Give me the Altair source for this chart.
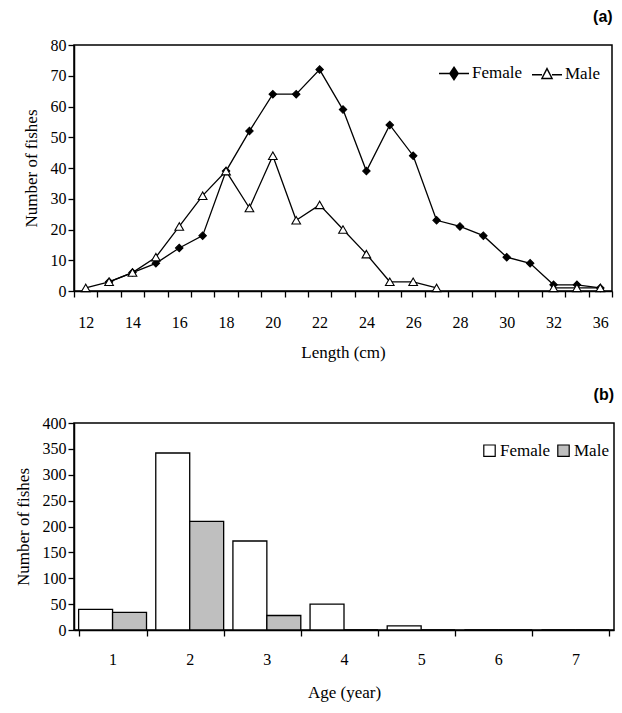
import altair as alt
import pandas as pd

# ---- data ----
lengths = [12, 13, 14, 15, 16, 17, 18, 19, 20, 21, 22, 23, 24, 25, 26, 27,
           28, 29, 30, 31, 32, 34, 36]
female_len = [None, 3, 6, 9, 14, 18, 39, 52, 64, 64, 72, 59, 39, 54, 44, 23,
              21, 18, 11, 9, 2, 2, 1]
male_len = [1, 3, 6, 11, 21, 31, 39, 27, 44, 23, 28, 20, 12, 3, 3, 1,
            None, None, None, None, 1, 1, 1]
len_labels = ["12", "14", "16", "18", "20", "22", "24", "26", "28", "30", "32", "36"]

ages = [1, 2, 3, 4, 5, 6, 7]
female_age = [40, 342, 172, 50, 8, 0, 0]
male_age = [34, 210, 28, 0, 0, 0, 0]

sexes = ["Female", "Male"]

# ---- build tables ----
rows = []
for sex, vals in (("Female", female_len), ("Male", male_len)):
    seg = 0
    prev_none = False
    for L, v in zip(lengths, vals):
        if v is None:
            prev_none = True
            continue
        if prev_none:
            seg += 1
            prev_none = False
        rows.append({"Length": L, "Count": v, "Sex": sex, "Series": sex, "Seg": f"{sex}{seg}"})
df_len = pd.DataFrame(rows)

rows = []
for sex, vals in (("Female", female_age), ("Male", male_age)):
    for a, v in zip(ages, vals):
        rows.append({"Age": a, "Count": v, "Group": sex})
df_age = pd.DataFrame(rows)

SERIF = "Liberation Serif"

x_len = alt.X(
    "Length:O",
    scale=alt.Scale(type="band", domain=lengths, paddingInner=0, paddingOuter=0),
    axis=alt.Axis(
        title="Length (cm)",
        labelAngle=0,
        tickBand="extent",
        labelExpr="indexof(" + str(len_labels) + ", datum.label) >= 0 ? datum.label : ''",
        labelPadding=17,
        titlePadding=14,
    ),
)
y_len = alt.Y(
    "Count:Q",
    scale=alt.Scale(domain=[0, 80], nice=False),
    axis=alt.Axis(title="Number of fishes", values=list(range(0, 81, 10)), titlePadding=10),
)


# legend symbols: a short line with the marker on it (stroke-only paths)
def _diamond(k):
    return f"M0,{-0.42*k:.3f}L{0.28*k:.3f},0L0,{0.42*k:.3f}L{-0.28*k:.3f},0Z"


female_path = "M-1,0L1,0" + "".join(_diamond(k) for k in (1, 0.8, 0.6, 0.4, 0.2, 0.05))
male_path = "M-1,0.05L-0.33,0.05M0.33,0.05L1,0.05M0,-0.36L0.34,0.3L-0.34,0.3Z"
legend_paths = [female_path, male_path]

lines = alt.Chart(df_len).mark_line(color="black", strokeWidth=1.3).encode(
    x=x_len, y=y_len, detail="Seg:N"
)
points = alt.Chart(df_len).mark_point(stroke="black", strokeWidth=1.1, opacity=1, filled=False).encode(
    x=x_len,
    y=y_len,
    shape=alt.Shape("Sex:N", scale=alt.Scale(domain=sexes, range=["diamond", "triangle-up"]), legend=None),
    fill=alt.Fill("Sex:N", scale=alt.Scale(domain=sexes, range=["black", "white"]), legend=None),
    size=alt.Size("Sex:N", scale=alt.Scale(domain=sexes, range=[55, 75]), legend=None),
)

leg = alt.Legend(
    title=None,
    orient="none",
    legendX=364,
    legendY=12,
    direction="horizontal",
    symbolSize=900,
    symbolStrokeColor="black",
    symbolStrokeWidth=1.4,
    symbolOpacity=1,
    labelFont=SERIF,
    labelFontSize=17,
    labelColor="black",
    columnPadding=6,
    labelOffset=2,
)
# legend-only layer: no rows survive the filter, the legend comes from the scale domain
legend_layer = alt.Chart(df_len).transform_filter("false").mark_point(
    filled=False, color="black", opacity=1, strokeWidth=1.4
).encode(
    x=x_len,
    y=y_len,
    shape=alt.Shape("Series:N", scale=alt.Scale(domain=sexes, range=legend_paths), legend=leg),
)

top = alt.layer(lines, points, legend_layer).resolve_scale(
    shape="independent", fill="independent", size="independent"
).properties(
    width=538,
    height=246,
    title=alt.Title("(a)", anchor="end", font="Liberation Sans", fontWeight="bold",
                    fontSize=16, offset=12, color="black"),
)

bars = alt.Chart(df_age).mark_bar(stroke="black", strokeWidth=1.3).encode(
    x=alt.X(
        "Age:O",
        scale=alt.Scale(paddingInner=0.12, paddingOuter=0.06),
        axis=alt.Axis(title="Age (year)", labelAngle=0, tickBand="extent",
                      labelPadding=15, titlePadding=17),
    ),
    xOffset=alt.XOffset("Group:N", sort=sexes, scale=alt.Scale(paddingInner=0, paddingOuter=0)),
    y=alt.Y(
        "Count:Q",
        scale=alt.Scale(domain=[0, 400], nice=False),
        axis=alt.Axis(title="Number of fishes", values=list(range(0, 401, 50)), titlePadding=10),
    ),
    fill=alt.Fill(
        "Group:N",
        scale=alt.Scale(domain=sexes, range=["white", "#bfbfbf"]),
        legend=alt.Legend(
            title=None,
            orient="none",
            legendX=407,
            legendY=19,
            direction="horizontal",
            symbolType="square",
            symbolSize=130,
            symbolStrokeColor="black",
            symbolStrokeWidth=1.2,
            labelFont=SERIF,
            labelFontSize=17,
            labelColor="black",
            columnPadding=4,
            labelOffset=2,
        ),
    ),
).properties(
    width=540,
    height=207,
    title=alt.Title("(b)", anchor="end", font="Liberation Sans", fontWeight="bold",
                    fontSize=16, offset=12, color="black"),
)

chart = alt.vconcat(top, bars, spacing=25).resolve_scale(
    fill="independent", shape="independent", size="independent"
).resolve_legend(
    fill="independent", shape="independent"
).configure(
    padding={"left": 13, "top": 8, "right": 4, "bottom": 4},
    background="white",
).configure_view(
    stroke="black", strokeWidth=1.5
).configure_legend(
    labelFont=SERIF, labelFontSize=17, labelColor="black"
).configure_axis(
    grid=False,
    domainColor="black",
    domainWidth=1.5,
    tickColor="black",
    tickWidth=1.3,
    tickSize=6,
    labelFont=SERIF,
    labelFontSize=16,
    labelColor="black",
    titleFont=SERIF,
    titleFontSize=17,
    titleFontWeight="normal",
    titleColor="black",
)

chart.save("out.html", embed_options={"renderer": "svg", "actions": False})
